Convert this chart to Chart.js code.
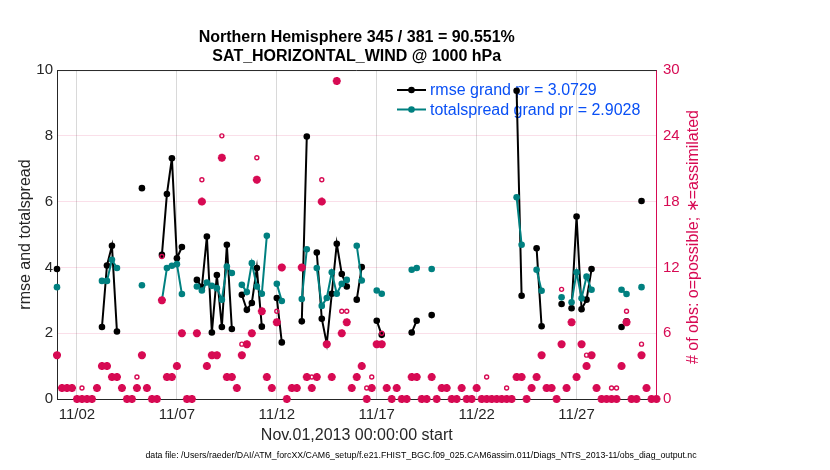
<!DOCTYPE html>
<html>
<head>
<meta charset="utf-8">
<script src="https://cdn.jsdelivr.net/npm/chart.js@4.4.1/dist/chart.umd.min.js"></script>
<style>
html,body{margin:0;padding:0;background:#fff;}
#wrap{width:830px;height:470px;position:relative;}
</style>
</head>
<body>
<div id="wrap"><canvas id="c" width="830" height="470"></canvas></div>
<script>
// ---- data (6-hourly bins starting Nov.01,2013 00:00) ----
const N = null;
const rmse = [
  3.95,N,N,N,N,N,N,N,N,2.19,
  4.06,4.66,2.05,N,N,N,N,6.41,N,N,
  N,4.38,6.23,7.32,4.28,4.62,N,N,3.62,3.40,
  4.94,2.02,3.77,2.19,4.69,2.13,N,3.17,2.71,2.92,
  3.98,2.20,N,N,3.07,1.72,N,N,N,2.36,
  7.98,N,4.45,2.44,1.68,3.20,4.72,3.80,3.42,N,
  3.02,4.01,N,N,2.38,1.95,N,N,N,N,
  N,2.02,2.38,N,N,2.55,N,N,N,N,
  N,N,N,N,N,N,N,N,N,N,
  N,N,9.37,3.14,N,N,4.58,2.21,N,N,
  N,2.89,N,2.76,5.55,2.73,3.02,3.95,N,N,
  N,N,N,2.19,2.36,N,N,6.02,N,N,
  N
];
const totalspread = [
  3.40,N,N,N,N,N,N,N,N,3.59,
  3.59,4.23,3.98,N,N,N,N,3.46,N,N,
  N,3.00,3.98,4.05,4.10,3.19,N,N,3.42,3.30,
  3.54,3.44,3.37,3.02,4.03,3.83,N,3.47,3.25,4.13,
  3.42,3.20,4.96,N,3.50,2.98,N,N,N,3.04,
  4.55,N,3.98,2.83,3.07,3.85,3.20,3.50,3.62,N,
  4.66,3.60,N,N,3.30,3.20,N,N,N,N,
  N,3.93,3.98,N,N,3.95,N,N,N,N,
  N,N,N,N,N,N,N,N,N,N,
  N,N,6.13,4.69,N,N,3.93,3.29,N,N,
  N,3.09,N,2.94,3.85,3.06,3.72,3.32,N,N,
  N,N,N,3.32,3.19,N,N,3.40,N,N,
  N
];
const nAssimilated = [
  4,1,1,1,0,0,0,0,1,3,
  3,2,2,1,0,0,1,4,1,0,
  0,9,2,2,3,6,0,0,6,18,
  3,4,4,22,2,2,1,4,5,6,
  20,8,2,1,7,12,0,1,1,12,
  2,1,2,18,5,2,29,6,7,1,
  2,3,0,1,5,5,1,0,1,0,
  0,2,2,0,0,2,0,1,1,0,
  0,1,0,0,1,0,0,0,0,0,
  0,0,2,2,0,1,2,4,1,1,
  0,5,1,7,2,5,3,4,1,0,
  0,0,0,3,7,0,0,4,1,0,
  0
];
const nPossible = [
  4,1,1,1,0,1,0,0,1,3,
  3,2,2,1,0,0,2,4,1,0,
  0,13,2,2,3,6,0,0,6,20,
  3,4,4,24,2,2,1,5,5,6,
  22,8,2,1,8,12,0,1,1,12,
  2,2,2,20,5,2,29,8,8,1,
  2,3,1,2,5,6,1,0,1,0,
  0,2,2,0,0,2,0,1,1,0,
  0,1,0,0,1,0,2,0,0,0,
  1,0,2,2,0,1,2,4,1,1,
  0,10,1,7,2,5,4,4,1,0,
  0,1,1,3,8,0,0,5,1,0,
  0
];
const binDays = 0.25;               // bin width in days (6 h)
const tickDays = [1, 6, 11, 16, 21, 26];
const tickLabels = ['11/02','11/07','11/12','11/17','11/22','11/27'];
const legendLabels = ['rmse grand pr = 3.0729', 'totalspread grand pr = 2.9028'];
const titleLines = ['Northern Hemisphere 345 / 381 = 90.551%', 'SAT_HORIZONTAL_WIND @ 1000 hPa'];
const xTitle = 'Nov.01,2013 00:00:00 start';
const yTitle = 'rmse and totalspread';
const y2Title = '# of obs: o=possible; \u2217=assimilated';
const footer = 'data file: /Users/raeder/DAI/ATM_forcXX/CAM6_setup/f.e21.FHIST_BGC.f09_025.CAM6assim.011/Diags_NTrS_2013-11/obs_diag_output.nc';

// ---- styles ----
const FONT = '"Liberation Sans", Arial, Helvetica, sans-serif';
const PINK = '#D70A53';
const TEAL = '#008080';
const BLACK = '#000000';
const AXIS = '#262626';
const LEGEND_TEXT = 'rgb(10,80,245)';

const pts = arr => arr.map((v, i) => ({x: i * binDays, y: v}));

const decor = {
  id: 'decor',
  beforeDatasetsDraw(chart) {
    const {ctx, chartArea: a} = chart;
    ctx.save();
    ctx.strokeStyle = AXIS; ctx.lineWidth = 1;
    ctx.beginPath(); ctx.moveTo(a.left, a.top + 0.5); ctx.lineTo(a.right, a.top + 0.5); ctx.stroke();
    // legend
    const rows = [{c: BLACK, y: 90}, {c: TEAL, y: 109.5}];
    rows.forEach((r, k) => {
      ctx.strokeStyle = r.c; ctx.lineWidth = 2;
      ctx.beginPath(); ctx.moveTo(397, r.y); ctx.lineTo(426, r.y); ctx.stroke();
      ctx.fillStyle = r.c;
      ctx.beginPath(); ctx.arc(411.5, r.y, 3.3, 0, Math.PI * 2); ctx.fill();
      ctx.fillStyle = LEGEND_TEXT;
      ctx.font = '16px ' + FONT;
      ctx.textAlign = 'left'; ctx.textBaseline = 'middle';
      ctx.fillText(legendLabels[k], 430, r.y + 1);
    });
    ctx.restore();
  },
  afterDraw(chart) {
    const {ctx} = chart;
    ctx.save();
    // right axis title (reads bottom to top)
    ctx.translate(694, 237);
    ctx.rotate(-Math.PI / 2);
    ctx.fillStyle = PINK;
    ctx.font = '16px ' + FONT;
    ctx.textAlign = 'center'; ctx.textBaseline = 'middle';
    ctx.fillText(y2Title, 0, 0);
    ctx.restore();
    ctx.save();
    ctx.fillStyle = '#000';
    ctx.font = '8.8px ' + FONT;
    ctx.textAlign = 'center'; ctx.textBaseline = 'middle';
    ctx.fillText(footer, 421, 456);
    ctx.restore();
  }
};

new Chart(document.getElementById('c'), {
  type: 'line',
  data: {
    datasets: [
      {label: 'assimilated', data: pts(nAssimilated), yAxisID: 'y2', showLine: false,
       pointStyle: 'star', pointRadius: 4, pointBorderWidth: 2.6, borderColor: PINK, backgroundColor: PINK, clip: false},
      {label: 'possible', data: pts(nPossible), yAxisID: 'y2', showLine: false,
       pointStyle: 'circle', pointRadius: 2, pointBorderWidth: 1.4, borderColor: PINK, backgroundColor: 'rgba(0,0,0,0)', clip: false},
      {label: 'totalspread', data: pts(totalspread), yAxisID: 'y', borderColor: TEAL, backgroundColor: TEAL,
       borderWidth: 2, pointRadius: 3.3, pointBorderWidth: 0, spanGaps: false, tension: 0, clip: false},
      {label: 'rmse', data: pts(rmse), yAxisID: 'y', borderColor: BLACK, backgroundColor: BLACK,
       borderWidth: 2, pointRadius: 3.3, pointBorderWidth: 0, spanGaps: false, tension: 0, clip: false}
    ]
  },
  options: {
    responsive: false, animation: false, devicePixelRatio: 1, events: [],
    layout: {padding: {left: 0, right: 120, top: 0, bottom: 0}},
    plugins: {
      legend: {display: false},
      tooltip: {enabled: false},
      title: {display: true, text: titleLines, color: '#000', fullSize: false,
              font: {family: FONT, size: 16, weight: 'bold', lineHeight: 1.17},
              padding: {top: 28.6, bottom: 4}}
    },
    scales: {
      x: {
        type: 'linear', min: 0, max: 30,
        afterBuildTicks: s => { s.ticks = tickDays.map(v => ({value: v})); },
        ticks: {callback: v => tickLabels[tickDays.indexOf(v)], autoSkip: false, maxRotation: 0,
                color: AXIS, font: {family: FONT, size: 15}, padding: 7},
        grid: {color: 'rgba(0,0,0,0.15)', drawTicks: false},
        border: {color: AXIS, width: 1},
        title: {display: true, text: xTitle, color: AXIS, font: {family: FONT, size: 16},
                padding: {top: 0, bottom: 24.7}},
        afterFit: s => { s.height = 71; }
      },
      y: {
        position: 'left', min: 0, max: 10,
        ticks: {stepSize: 2, color: AXIS, font: {family: FONT, size: 15}, padding: 4},
        grid: {display: false, drawTicks: false},
        border: {color: AXIS, width: 1},
        title: {display: true, text: yTitle, color: AXIS, font: {family: FONT, size: 16},
                padding: {top: 15.5, bottom: 0}},
        afterFit: s => { s.width = 57; }
      },
      y2: {
        position: 'right', min: 0, max: 30,
        ticks: {stepSize: 6, color: PINK, font: {family: FONT, size: 15}, padding: 6.5},
        grid: {drawTicks: false,
               color: c => (c.tick.value === 0 || c.tick.value === 30) ? 'rgba(0,0,0,0)' : 'rgba(215,10,83,0.13)'},
        border: {color: PINK, width: 1},
        afterFit: s => { s.width = 53.5; }
      }
    }
  },
  plugins: [decor]
});
</script>
</body>
</html>
